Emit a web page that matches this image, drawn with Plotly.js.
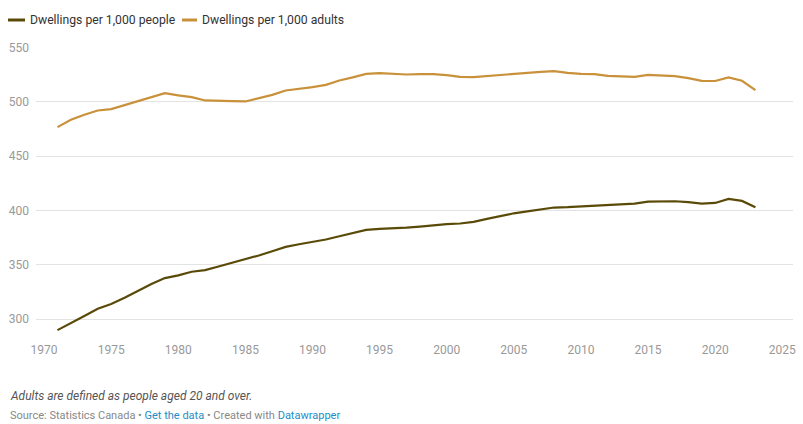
<!DOCTYPE html>
<html>
<head>
<meta charset="utf-8">
<script src="https://cdn.plot.ly/plotly-3.0.1.min.js"></script>
<style>
  html, body { margin: 0; padding: 0; background: #fff; }
  #chart { width: 803px; height: 424px; }
</style>
</head>
<body>
<div id="chart"></div>
<script>
const years = [1971,1972,1973,1974,1975,1976,1977,1978,1979,1980,
  1981,1982,1983,1984,1985,1986,1987,1988,1989,1990,
  1991,1992,1993,1994,1995,1996,1997,1998,1999,2000,
  2001,2002,2003,2004,2005,2006,2007,2008,2009,2010,
  2011,2012,2013,2014,2015,2016,2017,2018,2019,2020,
  2021,2022,2023];

const perPeople = [290,296.3,303,309.7,314,319.8,326.2,332.4,337.9,340.4,
  343.7,345.2,348.6,351.9,354.7,358.7,362.6,366.6,369,371.2,
  373.4,376.4,379.2,382.2,383.2,383.5,384.4,385.3,386.5,387.5,
  388.1,389.6,392.3,395,397.5,399.3,401,402.8,403.1,403.7,
  404.3,404.9,405.5,406.4,408.3,408.6,408.6,407.7,406.4,407,
  410.7,408.9,403.1];

const perAdults = [476.8,483.6,488.2,492.1,493.3,497,501,505,508,506,
  504.4,501.3,501.3,500.7,500.4,503.5,506.5,510.5,511.7,513.6,
  515.7,519.7,522.5,525.8,526.4,526,525.2,525.5,525.5,524.6,
  523,522.7,523.7,525.2,526,526.7,527.7,528.3,526.7,525.8,
  525.5,524,523.4,523,524.9,524.6,523.7,521.9,519.4,519.2,
  522.5,519.4,510.8];

const yTicks = [300,350,400,450,500,550];
const xTicks = [1970,1975,1980,1985,1990,1995,2000,2005,2010,2015,2020,2025];

const seriesNames = ["Dwellings per 1,000 people", "Dwellings per 1,000 adults"];
const seriesColors = ["#5a4a08", "#c8913a"];
const noteText = "Adults are defined as people aged 20 and over.";

const traces = [
  { x: years, y: perPeople, name: seriesNames[0], type: "scatter", mode: "lines",
    line: { color: seriesColors[0], width: 2.2 }, hoverinfo: "skip" },
  { x: years, y: perAdults, name: seriesNames[1], type: "scatter", mode: "lines",
    line: { color: seriesColors[1], width: 2.2 }, hoverinfo: "skip" }
];

// Custom legend (Datawrapper style): short line swatch + text, pixel-positioned from plot's top-left
const legendItems = [
  { lx0: -28, lx1: -11, tx: -8 },
  { lx0: 146, lx1: 161, tx: 164 }
];
const legendShapes = legendItems.map((it, i) => ({
  type: "line", xref: "paper", yref: "paper",
  xsizemode: "pixel", ysizemode: "pixel", xanchor: 0, yanchor: 1,
  x0: it.lx0, x1: it.lx1, y0: 27, y1: 27,
  line: { color: seriesColors[i], width: 3 }
}));
const legendAnnots = legendItems.map((it, i) => ({
  text: seriesNames[i], xref: "paper", yref: "paper",
  x: 0, xshift: it.tx, y: 1, yshift: 27, xanchor: "left", yanchor: "middle",
  showarrow: false, font: { size: 12.2, color: "#333" }
}));

const layout = {
  width: 803, height: 424,
  margin: { l: 36, r: 10, t: 47, b: 83 },
  paper_bgcolor: "#fff", plot_bgcolor: "#fff",
  font: { family: "Roboto, sans-serif", size: 12, color: "#333" },
  showlegend: false,
  xaxis: {
    range: [1969.4, 2025.8], tickvals: xTicks, ticktext: xTicks.map(String),
    showgrid: false, zeroline: false, showline: false,
    ticks: "", tickfont: { size: 12, color: "#999" },
    fixedrange: true,
  },
  yaxis: {
    range: [280, 550.5], tickvals: yTicks, ticktext: yTicks.map(String),
    showgrid: true, gridcolor: "#e3e3e3", gridwidth: 1,
    zeroline: false, showline: false, ticks: "",
    tickfont: { size: 12, color: "#999" },
    ticklabelstandoff: 6,
    fixedrange: true,
  },
  shapes: legendShapes,
  annotations: legendAnnots.concat([
    { text: "<i>" + noteText + "</i>", xref: "paper", yref: "paper",
      x: 0, xshift: -28, y: 0, yshift: -55, xanchor: "left", yanchor: "middle",
      showarrow: false, font: { size: 12, color: "#555" } },
    { text: "Source: Statistics Canada • <span style='color:#1d8ec6'>Get the data</span> • Created with <span style='color:#1d8ec6'>Datawrapper</span>",
      xref: "paper", yref: "paper",
      x: 0, xshift: -28, y: 0, yshift: -74, xanchor: "left", yanchor: "middle",
      showarrow: false, font: { size: 11, color: "#888" } }
  ])
};

Plotly.newPlot("chart", traces, layout, { displayModeBar: false, staticPlot: true });
</script>
</body>
</html>
